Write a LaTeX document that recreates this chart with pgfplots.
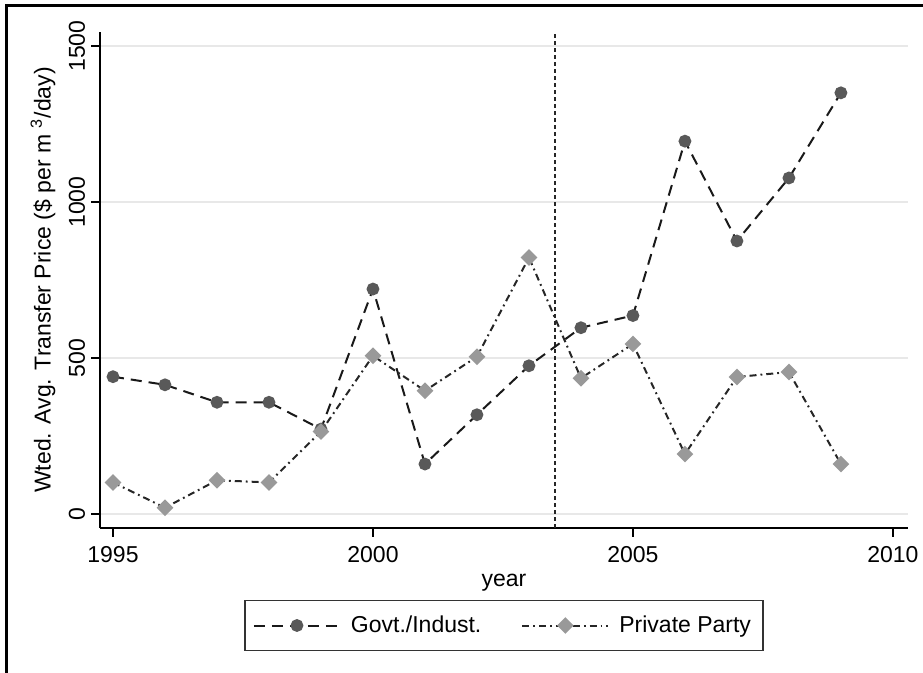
\documentclass[border=0pt]{standalone}
\usepackage{fontspec}
\setmainfont{Liberation Sans}
\usepackage{pgfplots}
\pgfplotsset{compat=1.18}
\begin{document}
\fontsize{11.5pt}{14pt}\selectfont
\begin{tikzpicture}
\useasboundingbox (0,0) rectangle (461.5pt,336.5pt);
\draw[line width=1.5pt] (3.25pt,-20pt) -- (3.25pt,333.75pt) -- (500pt,333.75pt);
\begin{axis}[
 scale only axis, width=404pt, height=248pt,
 at={(50pt,72.5pt)}, anchor=south west,
 xmin=1994.75, xmax=2010.29, ymin=-45, ymax=1545,
 axis x line*=bottom, axis y line*=left,
 axis line style={line width=0.75pt, -},
 xtick={1995,2000,2005,2010}, ytick={0,500,1000,1500},
 tick align=outside, major tick length=4.5pt,
 tick style={line width=0.75pt, black},
 ymajorgrids, grid style={line width=1pt, color=black!9},
 /pgf/number format/assume math mode=true,
 /pgf/number format/1000 sep={},
 xticklabel style={anchor=center, yshift=-9pt},
 yticklabel style={anchor=center, xshift=-7pt, rotate=90},
 xlabel={year}, ylabel={Wted. Avg. Transfer Price (\$ per m\;\textsuperscript{3}/day)},
 xlabel style={at={(axis description cs:0.5,-0.11)}, anchor=center},
 ylabel style={at={(axis description cs:-0.0705,0.5)}, anchor=center},
 legend style={at={(axis description cs:0.5,-0.1966)}, anchor=center, draw=black!80, line width=0.75pt, legend columns=2, inner xsep=4pt, inner ysep=5.5pt, /tikz/every even column/.append style={column sep=18pt}, /tikz/every odd column/.append style={column sep=3pt}, font=\fontsize{11.5pt}{14pt}\selectfont, legend cell align=left},
 legend image code/.code={\draw[mark repeat=2,mark phase=2,#1] plot coordinates {(0pt,0pt)(21.5pt,0pt)(43pt,0pt)};},
]
\addplot[black!85, line width=0.6pt, dash pattern=on 2pt off 1.5pt, forget plot] coordinates {(2003.5,-45)(2003.5,1545)};
\addplot[color=black!90, line width=1pt, dash pattern=on 5.5pt off 3.5pt, mark=*, mark size=2.7pt, mark options={solid, fill=black!65, draw=black!65}] coordinates {
(1995,440)(1996,414)(1997,358)(1998,358)(1999,272)(2000,721)(2001,160)(2002,318)(2003,475)(2004,597)(2005,636)(2006,1195)(2007,875)(2008,1077)(2009,1350)};
\addplot[color=black!85, line width=1pt, dash pattern=on 3.5pt off 2pt on 0.9pt off 2pt, mark=square*, mark size=2.45pt, mark options={solid, rotate=45, fill=black!40, draw=black!40}] coordinates {
(1995,101)(1996,20)(1997,108)(1998,101)(1999,264)(2000,507)(2001,395)(2002,504)(2003,822)(2004,435)(2005,545)(2006,192)(2007,439)(2008,455)(2009,160)};
\legend{Govt./Indust., Private Party}
\end{axis}
\end{tikzpicture}
\end{document}
